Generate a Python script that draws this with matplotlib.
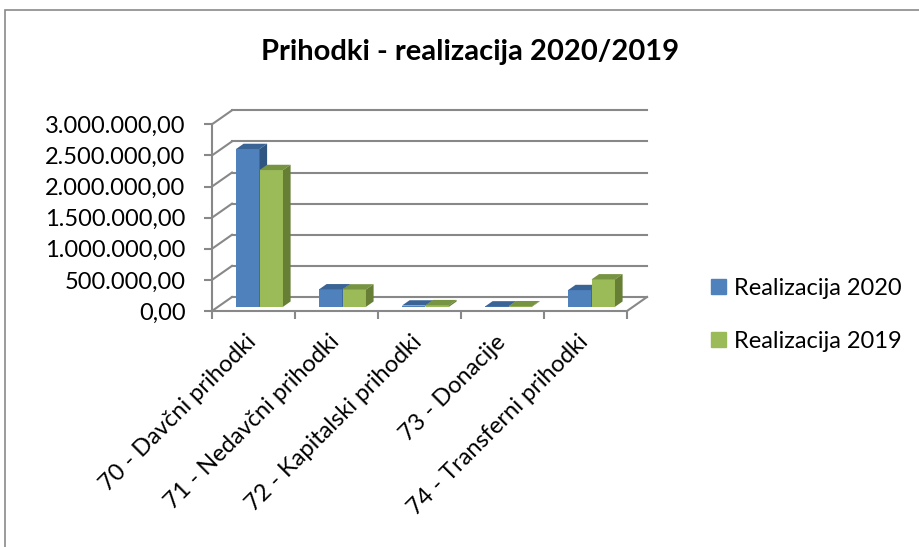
import matplotlib
matplotlib.use('Agg')
import matplotlib.pyplot as plt
import matplotlib.patches as mpatches
from matplotlib.ticker import FuncFormatter

categories = ['70 - Davčni prihodki', '71 - Nedavčni prihodki', '72 - Kapitalski prihodki',
              '73 - Donacije', '74 - Transferni prihodki']
real_2020 = [2535000, 280000, 20000, 5000, 268000]
real_2019 = [2197000, 278000, 25000, 8000, 440000]
series_names = ['Realizacija 2020', 'Realizacija 2019']
yticks = [0, 500000, 1000000, 1500000, 2000000, 2500000, 3000000]

W, H = 919, 547
plt.rcParams['font.family'] = ['Lato', 'DejaVu Sans']
grid_c = '#888888'
face_c = ['#4F81BD', '#9BBB59']
top_c = ['#3A6496', '#779443']
side_c = ['#2F5582', '#667F35']

fig = plt.figure(figsize=(W / 100, H / 100), dpi=100)

# chart area border
fig.patches.append(mpatches.Rectangle((5 / W, -0.02), 1.1, 1 - 10 / H + 0.02, transform=fig.transFigure,
                                      fill=False, edgecolor='#8a8a8a', lw=1.2))

ax = fig.add_axes([212 / W, 1 - 311 / H, (627 - 212) / W, (311 - 124.3) / H])
ax.set_xlim(0, 5)
ax.set_ylim(0, 3000000)
ax.patch.set_visible(False)

# depth offset (pixels) -> data units
fig.canvas.draw()
inv = ax.transData.inverted()
p0 = ax.transData.transform((0, 0))
dx, dy = inv.transform((p0[0] + 20, p0[1] + 14))

# back wall gridlines + side diagonals
for v in yticks:
    ax.plot([0 + dx, 5 + dx], [v + dy, v + dy], color=grid_c, lw=1.5, clip_on=False, zorder=1)
    ax.plot([0, dx], [v, v + dy], color=grid_c, lw=1.5, clip_on=False, zorder=1)
# floor right edge
ax.plot([5, 5 + dx], [0, dy], color=grid_c, lw=1.5, clip_on=False, zorder=1)

for s in ['top', 'right']:
    ax.spines[s].set_visible(False)
for s in ['left', 'bottom']:
    ax.spines[s].set_color(grid_c)
    ax.spines[s].set_linewidth(1.5)

ax.set_yticks(yticks)
ax.yaxis.set_major_formatter(FuncFormatter(
    lambda v, p: '{:,.2f}'.format(v).replace(',', 'X').replace('.', ',').replace('X', '.')))
ax.set_xticks(range(6))
ax.set_xticklabels([])
ax.tick_params(axis='both', length=6, width=1.5, color=grid_c, direction='out')
ax.tick_params(axis='y', labelsize=17, pad=13)

# 3D columns
w = 0.283
f0, fd = 0.3, 0.38
for i in range(len(categories)):
    for j, vals in enumerate([real_2020, real_2019]):
        v = vals[i]
        xl = i + 0.5 - w + j * w + f0 * dx
        b = f0 * dy
        ax.bar(xl, v, width=w, bottom=b, align='edge', color=face_c[j], lw=0, zorder=3 + i * 2 + j * 0.5,
               clip_on=False)
        top = b + v
        ax.add_patch(mpatches.Polygon([(xl, top), (xl + w, top), (xl + w + fd * dx, top + fd * dy),
                                       (xl + fd * dx, top + fd * dy)], closed=True, color=top_c[j], lw=0,
                                      zorder=3 + i * 2 + j * 0.5, clip_on=False))
        ax.add_patch(mpatches.Polygon([(xl + w, b), (xl + w, top), (xl + w + fd * dx, top + fd * dy),
                                       (xl + w + fd * dx, b + fd * dy)], closed=True, color=side_c[j], lw=0,
                                      zorder=3 + i * 2 + j * 0.5, clip_on=False))

# category labels
for i, c in enumerate(categories):
    ax.annotate(c, (i + 0.5, 0), xytext=(-8, -20), textcoords='offset pixels', rotation=45,
                rotation_mode='anchor', ha='right', va='top', fontsize=17)

fig.text(470 / W, 1 - 52 / H, 'Prihodki - realizacija 2020/2019', ha='center', va='center',
         fontsize=21, fontweight='bold')

handles = [mpatches.Patch(color=face_c[0]), mpatches.Patch(color=face_c[1])]
fig.legend(handles, series_names, loc='upper left', bbox_to_anchor=(711 / W, 1 - 278 / H),
           frameon=False, fontsize=17, handlelength=0.62, handleheight=0.62, handletextpad=0.35,
           labelspacing=1.35, borderpad=0, borderaxespad=0)

fig.savefig('out.png', dpi=100)
